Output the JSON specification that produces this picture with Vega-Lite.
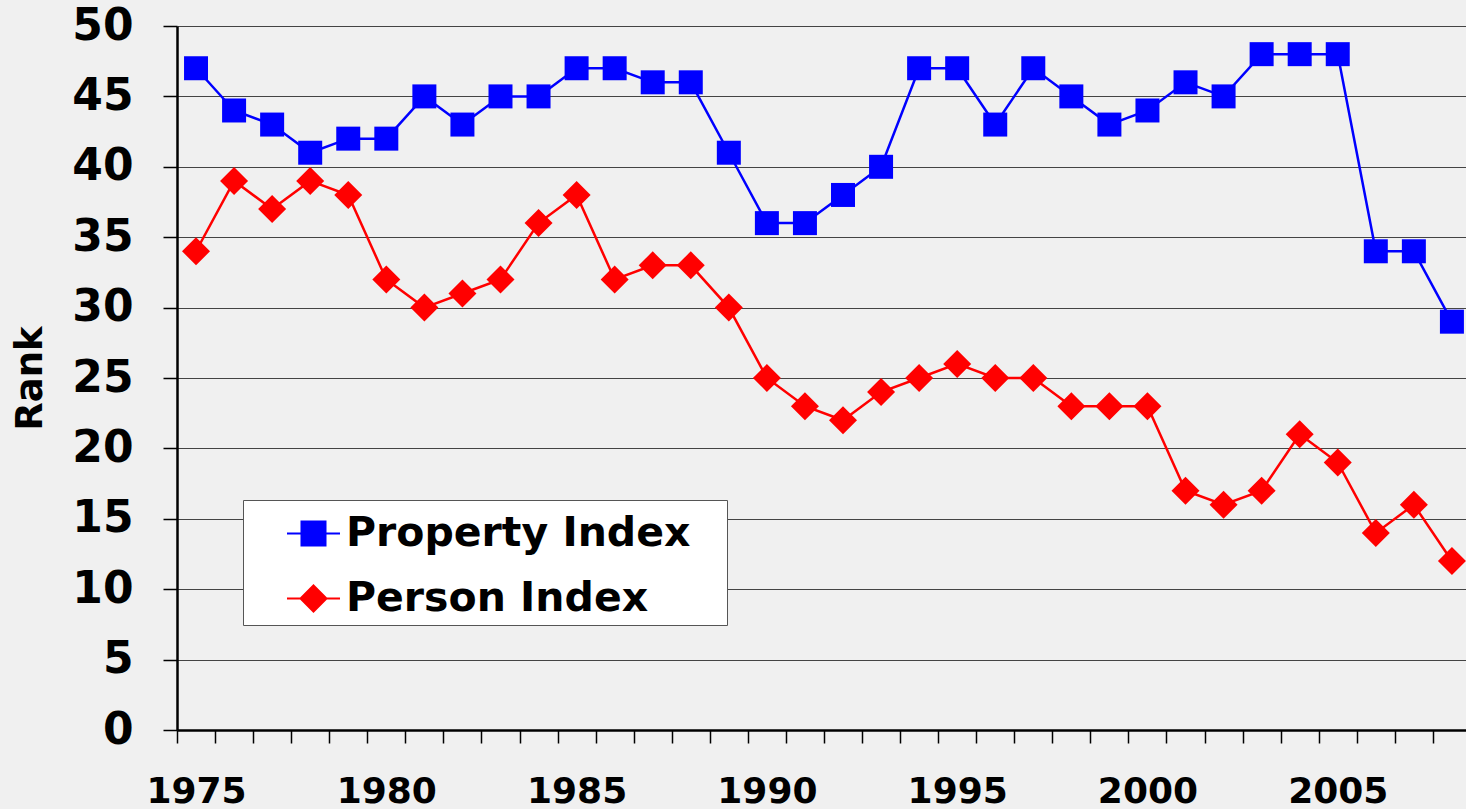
{
  "$schema": "https://vega.github.io/schema/vega-lite/v6.json",
  "width": 1289,
  "height": 704,
  "autosize": {"type": "none"},
  "padding": {"left": 177, "top": 26, "right": 0, "bottom": 79},
  "background": "#f0f0f0",
  "config": {"view": {"stroke": null}, "font": "DejaVu Sans"},
  "datasets": {
    "ranks": [
      {"year": 1975, "series": "Property Index", "rank": 47},
      {"year": 1976, "series": "Property Index", "rank": 44},
      {"year": 1977, "series": "Property Index", "rank": 43},
      {"year": 1978, "series": "Property Index", "rank": 41},
      {"year": 1979, "series": "Property Index", "rank": 42},
      {"year": 1980, "series": "Property Index", "rank": 42},
      {"year": 1981, "series": "Property Index", "rank": 45},
      {"year": 1982, "series": "Property Index", "rank": 43},
      {"year": 1983, "series": "Property Index", "rank": 45},
      {"year": 1984, "series": "Property Index", "rank": 45},
      {"year": 1985, "series": "Property Index", "rank": 47},
      {"year": 1986, "series": "Property Index", "rank": 47},
      {"year": 1987, "series": "Property Index", "rank": 46},
      {"year": 1988, "series": "Property Index", "rank": 46},
      {"year": 1989, "series": "Property Index", "rank": 41},
      {"year": 1990, "series": "Property Index", "rank": 36},
      {"year": 1991, "series": "Property Index", "rank": 36},
      {"year": 1992, "series": "Property Index", "rank": 38},
      {"year": 1993, "series": "Property Index", "rank": 40},
      {"year": 1994, "series": "Property Index", "rank": 47},
      {"year": 1995, "series": "Property Index", "rank": 47},
      {"year": 1996, "series": "Property Index", "rank": 43},
      {"year": 1997, "series": "Property Index", "rank": 47},
      {"year": 1998, "series": "Property Index", "rank": 45},
      {"year": 1999, "series": "Property Index", "rank": 43},
      {"year": 2000, "series": "Property Index", "rank": 44},
      {"year": 2001, "series": "Property Index", "rank": 46},
      {"year": 2002, "series": "Property Index", "rank": 45},
      {"year": 2003, "series": "Property Index", "rank": 48},
      {"year": 2004, "series": "Property Index", "rank": 48},
      {"year": 2005, "series": "Property Index", "rank": 48},
      {"year": 2006, "series": "Property Index", "rank": 34},
      {"year": 2007, "series": "Property Index", "rank": 34},
      {"year": 2008, "series": "Property Index", "rank": 29},
      {"year": 1975, "series": "Person Index", "rank": 34},
      {"year": 1976, "series": "Person Index", "rank": 39},
      {"year": 1977, "series": "Person Index", "rank": 37},
      {"year": 1978, "series": "Person Index", "rank": 39},
      {"year": 1979, "series": "Person Index", "rank": 38},
      {"year": 1980, "series": "Person Index", "rank": 32},
      {"year": 1981, "series": "Person Index", "rank": 30},
      {"year": 1982, "series": "Person Index", "rank": 31},
      {"year": 1983, "series": "Person Index", "rank": 32},
      {"year": 1984, "series": "Person Index", "rank": 36},
      {"year": 1985, "series": "Person Index", "rank": 38},
      {"year": 1986, "series": "Person Index", "rank": 32},
      {"year": 1987, "series": "Person Index", "rank": 33},
      {"year": 1988, "series": "Person Index", "rank": 33},
      {"year": 1989, "series": "Person Index", "rank": 30},
      {"year": 1990, "series": "Person Index", "rank": 25},
      {"year": 1991, "series": "Person Index", "rank": 23},
      {"year": 1992, "series": "Person Index", "rank": 22},
      {"year": 1993, "series": "Person Index", "rank": 24},
      {"year": 1994, "series": "Person Index", "rank": 25},
      {"year": 1995, "series": "Person Index", "rank": 26},
      {"year": 1996, "series": "Person Index", "rank": 25},
      {"year": 1997, "series": "Person Index", "rank": 25},
      {"year": 1998, "series": "Person Index", "rank": 23},
      {"year": 1999, "series": "Person Index", "rank": 23},
      {"year": 2000, "series": "Person Index", "rank": 23},
      {"year": 2001, "series": "Person Index", "rank": 17},
      {"year": 2002, "series": "Person Index", "rank": 16},
      {"year": 2003, "series": "Person Index", "rank": 17},
      {"year": 2004, "series": "Person Index", "rank": 21},
      {"year": 2005, "series": "Person Index", "rank": 19},
      {"year": 2006, "series": "Person Index", "rank": 14},
      {"year": 2007, "series": "Person Index", "rank": 16},
      {"year": 2008, "series": "Person Index", "rank": 12}
    ]
  },
  "data": {"name": "ranks"},
  "resolve": {"scale": {"x": "shared"}, "axis": {"x": "independent"}},
  "encoding": {
    "y": {
      "field": "rank",
      "type": "quantitative",
      "scale": {"domain": [0, 50], "nice": false},
      "axis": {
        "title": "Rank",
        "values": [0, 5, 10, 15, 20, 25, 30, 35, 40, 45, 50],
        "labelFontSize": 44,
        "labelFontWeight": "bold",
        "labelColor": "#000000",
        "labelPadding": 30,
        "tickSize": 14,
        "tickWidth": 1.5,
        "tickColor": "#000000",
        "domainColor": "#000000",
        "domainWidth": 2.5,
        "gridColor": "#444444",
        "gridWidth": 1.2,
        "titleFontSize": 37,
        "titleFontWeight": "bold",
        "titleColor": "#000000",
        "titlePadding": 22
      }
    },
    "color": {
      "field": "series",
      "type": "nominal",
      "scale": {"domain": ["Property Index", "Person Index"], "range": ["#0000ff", "#ff0000"]},
      "legend": {
        "title": "\u00a0",
        "titleOrient": "right",
        "titlePadding": 31,
        "titleFontSize": 10,
        "orient": "none",
        "legendX": 66,
        "legendY": 474,
        "fillColor": "#ffffff",
        "strokeColor": "#555555",
        "padding": 6,
        "rowPadding": 17,
        "symbolSize": 2809,
        "symbolStrokeWidth": 2,
        "symbolOffset": 37,
        "labelOffset": 5,
        "labelFont": "DejaVu Sans",
        "labelFontSize": 41,
        "labelFontWeight": "bold",
        "labelColor": "#000000",
        "labelLimit": 800,
        "symbolType": "M-1,0H1M-0.453,-0.453H0.453V0.453H-0.453Z",
        "encode": {
          "symbols": {
            "update": {
              "shape": {"signal": "datum.value === 'Property Index' ? 'M-1,0H1M-0.453,-0.453H0.453V0.453H-0.453Z' : 'M-1,0H1M0,-0.49L0.49,0L0,0.49L-0.49,0Z'"},
              "stroke": {"signal": "datum.value === 'Property Index' ? '#0000ff' : '#ff0000'"},
              "fill": {"signal": "datum.value === 'Property Index' ? '#0000ff' : '#ff0000'"},
              "strokeWidth": {"value": 2},
              "size": {"value": 2809},
              "opacity": {"value": 1}
            }
          }
        }
      }
    }
  },
  "layer": [
    {
      "mark": {"type": "line", "strokeWidth": 2.5},
      "encoding": {
        "x": {
          "field": "year",
          "type": "quantitative",
          "scale": {"domain": [1974.5, 2008.37], "nice": false, "zero": false},
          "axis": {
            "orient": "bottom",
            "title": null,
            "grid": false,
            "labels": false,
            "values": [1974.5, 1975.5, 1976.5, 1977.5, 1978.5, 1979.5, 1980.5, 1981.5, 1982.5, 1983.5, 1984.5, 1985.5, 1986.5, 1987.5, 1988.5, 1989.5, 1990.5, 1991.5, 1992.5, 1993.5, 1994.5, 1995.5, 1996.5, 1997.5, 1998.5, 1999.5, 2000.5, 2001.5, 2002.5, 2003.5, 2004.5, 2005.5, 2006.5, 2007.5],
            "tickSize": 13,
            "tickWidth": 1.5,
            "tickColor": "#000000",
            "domainColor": "#000000",
            "domainWidth": 2.5
          }
        },
        "detail": {"field": "series"}
      }
    },
    {
      "transform": [{"filter": "datum.series === 'Property Index'"}],
      "mark": {"type": "point", "filled": true, "opacity": 1, "shape": "square", "size": 576},
      "encoding": {
        "x": {
          "field": "year",
          "type": "quantitative",
          "axis": {
            "orient": "bottom",
            "title": null,
            "grid": false,
            "domain": false,
            "ticks": false,
            "values": [1975, 1980, 1985, 1990, 1995, 2000, 2005],
            "format": "d",
            "labelOverlap": false,
            "labelFlush": false,
            "labelFontSize": 36,
            "labelFontWeight": "bold",
            "labelColor": "#000000",
            "labelPadding": 44
          }
        }
      }
    },
    {
      "transform": [{"filter": "datum.series === 'Person Index'"}],
      "mark": {"type": "point", "filled": true, "opacity": 1, "shape": "diamond", "size": 784},
      "encoding": {
        "x": {"field": "year", "type": "quantitative", "axis": null}
      }
    }
  ]
}
